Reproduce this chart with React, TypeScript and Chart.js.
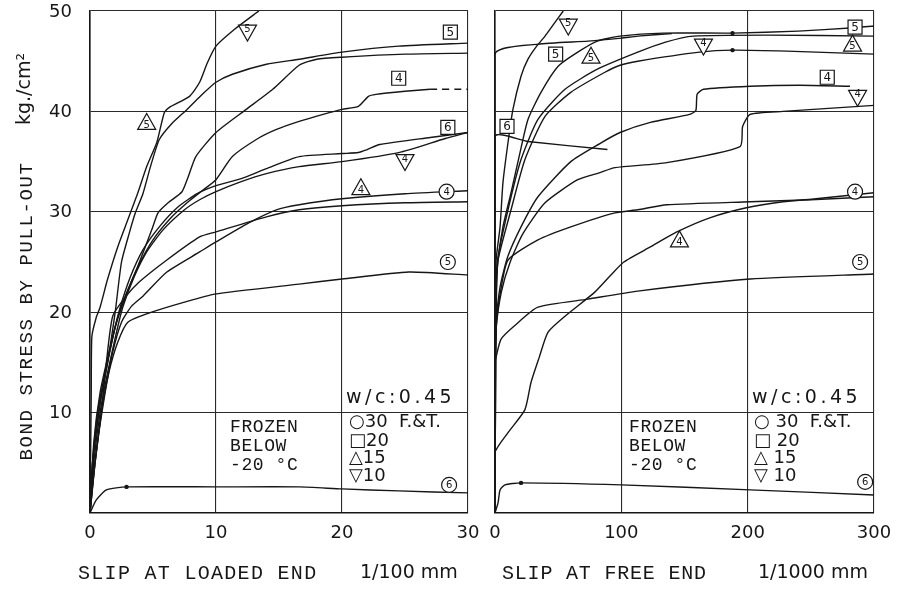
import React, { useEffect, useRef } from "react";
import { Chart, registerables } from "chart.js";

Chart.register(...registerables);

type Pt = [number, number];
type Tag = { shape: "square" | "circle" | "up" | "down"; n: string; at: Pt };

// ---------- axis ticks ----------
const STRESS_TICKS = [0, 10, 20, 30, 40, 50];
const STRESS_LABELS = ["10", "20", "30", "40", "50"];
const LOADED_X_TICKS = [0, 10, 20, 30];
const FREE_X_TICKS = [0, 100, 200, 300];

// ---------- LEFT: slip at loaded end (1/100 mm) vs bond stress (kg/cm2) ----------
const loadedDown5: Pt[] = [[0, 0], [0.05, 6], [0.1, 12], [0.15, 17.6], [0.5, 19.5], [0.8, 20.5], [1.4, 23.3], [2.2, 26.5], [3.0, 29.2], [3.8, 31.9], [4.5, 34.5], [5.3, 36.9], [5.9, 39.9], [6.3, 40.4], [7.9, 41.5], [8.7, 42.9], [9.3, 44.8], [10, 46.5], [11.5, 48.2], [13.4, 50]];
const loadedSq5: Pt[] = [[0, 0], [0.2, 5], [0.6, 9], [0.9, 11.6], [1.4, 15], [2, 20], [2.5, 25], [3.1, 27.8], [3.6, 29.9], [4.2, 31.8], [4.8, 34.5], [5.5, 37.2], [6.5, 38.8], [7.7, 40.2], [9, 41.8], [10, 42.9], [11.3, 43.7], [14, 44.7], [16.6, 45.2], [20, 45.9], [24.5, 46.5], [30, 46.8]];
const loadedUp5: Pt[] = [[0, 0], [0.3, 7], [0.8, 12], [1.5, 16], [2.2, 19.5], [2.8, 21.6], [3.8, 24.6], [4.9, 28.2], [5.4, 29.9], [6.2, 30.9], [7.3, 32], [7.8, 33.5], [8.4, 35.5], [10, 37.9], [12.4, 40.2], [14.5, 42.2], [16.6, 44.6], [18, 45.2], [20, 45.4], [25, 45.7], [30, 45.8]];
const loadedSq4: Pt[] = [[0, 0], [0.3, 6], [0.8, 11], [1.4, 15], [2, 18.5], [2.8, 21.5], [3.8, 24.5], [5, 27.2], [6.5, 29.5], [7.8, 31], [9, 32.2], [10, 33.2], [11.3, 35.5], [13.2, 37.2], [14.8, 38.2], [16.6, 39], [18.5, 39.7], [20, 40.2], [21.3, 40.5], [22.1, 41.5], [22.7, 41.7], [25, 42], [27, 42.2]];
const loadedSq4Dash: Pt[] = [[27, 42.2], [30, 42.2]];
const loadedSq6: Pt[] = [[0, 0], [0.2, 5], [0.6, 10], [1.2, 14], [1.9, 18], [2.4, 20.5], [3.2, 23.5], [4.2, 26.2], [5.5, 28.5], [7, 30.5], [8.5, 31.8], [10, 32.6], [12, 33.3], [14, 34.3], [16.6, 35.5], [20, 35.8], [21.3, 35.9], [22, 36.2], [23, 36.7], [27, 37.4], [30, 37.9]];
const loadedDown4: Pt[] = [[0, 0], [0.3, 5], [0.8, 10], [1.4, 14], [2.1, 18], [2.6, 20.5], [3.5, 23.5], [4.5, 26], [5.8, 28.2], [7.5, 30.2], [8.7, 31.2], [10, 32], [12, 33], [14, 33.8], [16.6, 34.5], [20, 35], [24.5, 35.9], [28.2, 37.3], [30, 37.9]];
const loadedCirc4: Pt[] = [[0, 0], [0.3, 4], [0.7, 8], [1.2, 12], [1.8, 16], [2.5, 19], [3.3, 20.6], [4.2, 21.6], [6.1, 24], [8.7, 26], [10, 27], [12.6, 28.9], [14.8, 30.2], [16.6, 30.7], [20, 31.3], [25, 31.8], [30, 32.1]];
const loadedUp4: Pt[] = [[0, 0], [0.4, 5], [0.9, 10], [1.3, 15], [1.8, 19.6], [2.8, 21.5], [3.9, 23], [6.1, 25.2], [8.7, 27.5], [10, 28], [14, 29.5], [16.6, 30.2], [20, 30.6], [25, 30.9], [30, 31]];
const loadedCirc5: Pt[] = [[0, 0], [0.4, 5], [0.9, 10], [1.5, 14], [2.2, 17], [3, 19], [4.9, 20], [7.5, 21], [9.9, 21.8], [16.6, 22.8], [20, 23.3], [25.3, 24], [30, 23.7]];
const loadedCirc6: Pt[] = [[0, 0], [0.5, 1.3], [1.3, 2.3], [2.9, 2.6], [10, 2.6], [16.6, 2.6], [20, 2.4], [24.5, 2.2], [30, 2.0]];
const loadedDots: Pt[] = [[2.9, 2.6]];
const loadedTags: Tag[] = [
  { shape: "down", n: "5", at: [12.5, 47.9] },
  { shape: "up", n: "5", at: [4.5, 38.9] },
  { shape: "square", n: "5", at: [28.6, 47.9] },
  { shape: "square", n: "4", at: [24.5, 43.3] },
  { shape: "square", n: "6", at: [28.4, 38.4] },
  { shape: "down", n: "4", at: [25, 35] },
  { shape: "up", n: "4", at: [21.5, 32.4] },
  { shape: "circle", n: "4", at: [28.3, 32] },
  { shape: "circle", n: "5", at: [28.4, 25] },
  { shape: "circle", n: "6", at: [28.5, 2.8] },
];

// ---------- RIGHT: slip at free end (1/1000 mm) ----------
const freeDown5: Pt[] = [[0, 0], [0.3, 10], [0.6, 20], [0.9, 25.2], [4, 28.5], [6.3, 32.9], [10.3, 36.9], [14.2, 40.2], [20.6, 43.5], [26.1, 45.2], [33, 46.5], [39.6, 47.5], [54, 50]];
const freeSq5: Pt[] = [[0, 0], [0.5, 15], [1, 22], [2.4, 25.2], [6.3, 28.5], [12.7, 31.9], [19.8, 35.9], [26.1, 39.2], [36.4, 41.9], [50, 44.5], [65.5, 45.9], [81, 47], [99, 47.5], [133, 47.8], [188, 47.8], [240, 48], [281, 48.3], [300, 48.5]];
const freeTop: Pt[] = [[0, 0], [0, 45.7], [34, 46.7], [73.6, 47], [100, 47.3], [113, 47.5], [140, 47.75]];
const freeUp5: Pt[] = [[0, 0], [0.3, 15], [0.8, 22], [2, 25.2], [10.3, 30.2], [20.6, 35.2], [34, 39.2], [55.4, 42.2], [81, 44.2], [113, 45.9], [135, 46.9], [157, 47.5], [215, 47.6], [300, 47.5]];
const freeG2: Pt[] = [[0, 0], [0.5, 15], [1.2, 22], [2.4, 25.2], [12.7, 30.2], [23.7, 35.2], [39.6, 39.5], [60, 41.9], [87, 43.9], [99, 44.6], [113, 45], [162, 45.9], [188, 46.1], [231, 46], [300, 45.7]];
const freeSq4: Pt[] = [[0, 0], [0, 15], [1, 19], [4, 22.5], [10, 25.5], [20.6, 28.5], [34, 31.5], [60, 35], [83, 36.8], [99, 37.9], [123, 38.9], [154, 39.7], [159, 40.1], [160, 41.7], [165, 42.2], [202, 42.5], [241, 42.6], [281, 42.5]];
const freeDown4: Pt[] = [[0, 0], [0, 15], [1, 18.5], [5, 22], [12, 25], [22, 27.8], [39.6, 30.9], [65.5, 33.2], [83, 33.9], [95, 34.4], [136, 34.9], [194, 36.5], [196, 38.5], [202, 39.7], [228, 40], [300, 40.6]];
const freeCirc4: Pt[] = [[0, 0], [0, 16], [1.5, 19.5], [5, 22.5], [10.3, 25.2], [34, 27.2], [60, 28.5], [95, 29.9], [113, 30.2], [136, 30.7], [202, 31], [250, 31.2], [300, 31.5]];
const freeUp4: Pt[] = [[0, 0], [0, 6], [10.3, 8], [23.7, 10.3], [28.5, 13], [35, 15.5], [41.9, 18], [55.4, 19.6], [79, 22], [91, 23.6], [102, 25], [123, 26.5], [144, 28], [170, 29.4], [199, 30.4], [228, 31], [254, 31.3], [300, 31.9]];
const freeCirc5: Pt[] = [[0, 0], [0, 15], [1, 15.6], [4.7, 17.3], [15, 18.6], [34, 20.5], [73.6, 21.3], [113, 22.1], [202, 23.3], [300, 23.8]];
const freeSq6: Pt[] = [[0, 0], [0, 37.5], [26, 37], [89, 36.2]];
const freeCirc6: Pt[] = [[0, 0], [2.4, 1], [4, 2.3], [7.9, 2.8], [20.6, 3], [100, 2.8], [202, 2.3], [300, 1.8]];
const freeDots: Pt[] = [[20.6, 3], [188, 47.8], [188, 46.1]];
const freeTags: Tag[] = [
  { shape: "down", n: "5", at: [58, 48.5] },
  { shape: "square", n: "5", at: [48, 45.7] },
  { shape: "up", n: "5", at: [76, 45.5] },
  { shape: "square", n: "6", at: [9.5, 38.5] },
  { shape: "square", n: "5", at: [285, 48.4] },
  { shape: "up", n: "5", at: [283, 46.7] },
  { shape: "down", n: "4", at: [165, 46.5] },
  { shape: "square", n: "4", at: [263, 43.4] },
  { shape: "down", n: "4", at: [287, 41.4] },
  { shape: "circle", n: "4", at: [285, 32] },
  { shape: "up", n: "4", at: [146, 27.2] },
  { shape: "circle", n: "5", at: [289, 25] },
  { shape: "circle", n: "6", at: [293, 3.1] },
];

// ---------- drawing helpers ----------
const INK = "#161616";
const MONO = "'Liberation Mono', 'DejaVu Sans Mono', monospace";
const SANS = "'DejaVu Sans', sans-serif";

function drawTag(ctx: CanvasRenderingContext2D, x: number, y: number, t: Tag) {
  ctx.save();
  ctx.lineWidth = 1.2;
  ctx.strokeStyle = INK;
  ctx.fillStyle = "#fff";
  ctx.beginPath();
  if (t.shape === "square") ctx.rect(x - 7, y - 7, 14, 14);
  else if (t.shape === "circle") ctx.arc(x, y, 7.5, 0, Math.PI * 2);
  else if (t.shape === "up") {
    ctx.moveTo(x, y - 9);
    ctx.lineTo(x + 9, y + 7);
    ctx.lineTo(x - 9, y + 7);
    ctx.closePath();
  } else {
    ctx.moveTo(x - 9, y - 7);
    ctx.lineTo(x + 9, y - 7);
    ctx.lineTo(x, y + 9);
    ctx.closePath();
  }
  ctx.fill();
  ctx.stroke();
  ctx.fillStyle = INK;
  ctx.font = `${t.shape === "square" ? 12 : 10}px ${SANS}`;
  ctx.textAlign = "center";
  ctx.textBaseline = "middle";
  const dy = t.shape === "up" ? 2.5 : t.shape === "down" ? -2.5 : 0.5;
  ctx.fillText(t.n, x, y + dy);
  ctx.restore();
}

type TextItem = { text: string; x: number; y: number; font: string; ls?: string; rot?: number; align?: CanvasTextAlign };

const decoPlugin = {
  id: "deco",
  afterDatasetsDraw(chart: any, _args: any, opts: any) {
    const { ctx, scales, chartArea } = chart;
    const xs = scales.x;
    const ys = scales.y;
    (opts.dots || []).forEach((d: Pt) => {
      ctx.save();
      ctx.fillStyle = INK;
      ctx.beginPath();
      ctx.arc(xs.getPixelForValue(d[0]), ys.getPixelForValue(d[1]), 2.2, 0, Math.PI * 2);
      ctx.fill();
      ctx.restore();
    });
    (opts.tags || []).forEach((t: Tag) => drawTag(ctx, xs.getPixelForValue(t.at[0]), ys.getPixelForValue(t.at[1]), t));
    ctx.save();
    ctx.font = `18px ${SANS}`;
    ctx.fillStyle = INK;
    ctx.textBaseline = "middle";
    ctx.textAlign = "right";
    (opts.yLabels || []).forEach((lab: string) => {
      ctx.fillText(lab, chartArea.left - 18, ys.getPixelForValue(Number(lab)) + 1);
    });
    ctx.textAlign = "center";
    (opts.xLabels || []).forEach((v: number) => {
      ctx.fillText(String(v), xs.getPixelForValue(v), chartArea.bottom + 20);
    });
    ctx.restore();
    (opts.texts || []).forEach((t: TextItem) => {
      ctx.save();
      ctx.font = t.font;
      (ctx as any).letterSpacing = t.ls || "0px";
      ctx.fillStyle = INK;
      ctx.textAlign = t.align || "left";
      ctx.textBaseline = "middle";
      ctx.translate(t.x, t.y);
      if (t.rot) ctx.rotate(t.rot);
      ctx.fillText(t.text, 0, 0);
      ctx.restore();
    });
  },
};

function line(pts: Pt[], dash?: number[]) {
  return {
    data: pts.map(([x, y]) => ({ x, y })),
    borderColor: INK,
    borderWidth: 1.4,
    borderDash: dash || [],
    pointRadius: 0,
    tension: 0.2,
    fill: false,
  };
}

function makeConfig(opts: {
  series: { pts: Pt[]; dash?: number[] }[];
  xTicks: number[];
  yAxisWidth: number;
  yLabels: string[];
  rightPad: number;
  tags: Tag[];
  dots: Pt[];
  texts: TextItem[];
}): any {
  const xMax = opts.xTicks[opts.xTicks.length - 1];
  const yMax = STRESS_TICKS[STRESS_TICKS.length - 1];
  return {
    type: "line",
    data: { datasets: opts.series.map((s) => line(s.pts, s.dash)) },
    plugins: [decoPlugin],
    options: {
      animation: false,
      responsive: false,
      devicePixelRatio: 1,
      layout: { padding: { left: 0, top: 11, right: opts.rightPad, bottom: 0 } },
      plugins: {
        legend: { display: false },
        tooltip: { enabled: false },
        deco: { tags: opts.tags, dots: opts.dots, texts: opts.texts, yLabels: opts.yLabels, xLabels: opts.xTicks },
      },
      scales: {
        x: {
          type: "linear",
          min: opts.xTicks[0],
          max: xMax,
          afterBuildTicks: (s: any) => {
            s.ticks = opts.xTicks.map((v) => ({ value: v }));
          },
          afterFit: (s: any) => {
            s.height = 77;
          },
          grid: { color: "#2a2a2a", lineWidth: 1.1, drawTicks: false },
          border: { color: INK, width: 1.6 },
          ticks: { display: false },
        },
        y: {
          type: "linear",
          min: 0,
          max: yMax,
          afterBuildTicks: (s: any) => {
            s.ticks = STRESS_TICKS.map((v) => ({ value: v }));
          },
          afterFit: (s: any) => {
            s.width = opts.yAxisWidth;
          },
          grid: { color: "#2a2a2a", lineWidth: 1.1, drawTicks: false },
          border: { color: INK, width: 1.6 },
          ticks: { display: false },
        },
      },
    },
  };
}

const LEFT_W = 485;
const RIGHT_W = 902 - LEFT_W;

const legendRows = (x: number, gap: string): TextItem[] => [
  { text: `○${gap}30  F.&T.`, x, y: 422, font: `18px ${SANS}` },
  { text: `□${gap}20`, x, y: 441, font: `18px ${SANS}` },
  { text: `△${gap}15`, x, y: 458, font: `18px ${SANS}` },
  { text: `▽${gap}10`, x, y: 476, font: `18px ${SANS}` },
];

const frozenRows = (x: number): TextItem[] => [
  { text: "FROZEN", x, y: 427, font: `18px ${MONO}`, ls: "0.6px" },
  { text: "BELOW", x, y: 446, font: `18px ${MONO}`, ls: "0.6px" },
  { text: "-20 °C", x, y: 465, font: `18px ${MONO}`, ls: "0.6px" },
];

const leftConfig = makeConfig({
  series: [
    { pts: loadedDown5 }, { pts: loadedSq5 }, { pts: loadedUp5 }, { pts: loadedSq4 }, { pts: loadedSq4Dash, dash: [7, 5] },
    { pts: loadedSq6 }, { pts: loadedDown4 }, { pts: loadedCirc4 }, { pts: loadedUp4 }, { pts: loadedCirc5 }, { pts: loadedCirc6 },
  ],
  xTicks: LOADED_X_TICKS,
  yAxisWidth: 90,
  yLabels: STRESS_LABELS,
  rightPad: LEFT_W - 468,
  tags: loadedTags,
  dots: loadedDots,
  texts: [
    { text: "BOND STRESS BY PULL-OUT", x: 27, y: 311, font: `19px ${MONO}`, ls: "1.6px", rot: -Math.PI / 2, align: "center" },
    { text: "kg./cm²", x: 25, y: 89, font: `19px ${SANS}`, rot: -Math.PI / 2, align: "center" },
    { text: "SLIP AT LOADED END", x: 78, y: 574, font: `20px ${MONO}`, ls: "1.3px" },
    { text: "1/100 mm", x: 360, y: 573, font: `19px ${SANS}` },
    { text: "w/c:0.45", x: 346, y: 398, font: `19px ${SANS}`, ls: "3.5px" },
    ...legendRows(349, ""),
    ...frozenRows(230),
  ],
});

const OFF = LEFT_W;
const rightConfig = makeConfig({
  series: [
    { pts: freeDown5 }, { pts: freeSq5 }, { pts: freeTop }, { pts: freeUp5 }, { pts: freeG2 }, { pts: freeSq4 },
    { pts: freeDown4 }, { pts: freeCirc4 }, { pts: freeUp4 }, { pts: freeCirc5 }, { pts: freeSq6 }, { pts: freeCirc6 },
  ],
  xTicks: FREE_X_TICKS,
  yAxisWidth: 495 - OFF,
  yLabels: [],
  rightPad: 902 - 874,
  tags: freeTags,
  dots: freeDots,
  texts: [
    { text: "SLIP AT FREE END", x: 502 - OFF, y: 574, font: `20px ${MONO}`, ls: "0.8px" },
    { text: "1/1000 mm", x: 758 - OFF, y: 573, font: `19px ${SANS}` },
    { text: "w/c:0.45", x: 752 - OFF, y: 398, font: `19px ${SANS}`, ls: "3.5px" },
    ...legendRows(754 - OFF, " "),
    ...frozenRows(629 - OFF),
  ],
});

function Panel({ config, left, width }: { config: any; left: number; width: number }) {
  const ref = useRef<HTMLCanvasElement>(null);
  useEffect(() => {
    const chart = new Chart(ref.current as HTMLCanvasElement, config);
    return () => chart.destroy();
  }, [config]);
  return (
    <canvas
      ref={ref}
      width={width}
      height={590}
      style={{ position: "absolute", left, top: 0, width, height: 590, display: "block" }}
    />
  );
}

export default function App() {
  return (
    <div style={{ position: "fixed", left: 0, top: 0, width: 902, height: 590, background: "#fff", overflow: "hidden" }}>
      <Panel config={leftConfig} left={0} width={LEFT_W} />
      <Panel config={rightConfig} left={LEFT_W} width={RIGHT_W} />
    </div>
  );
}
